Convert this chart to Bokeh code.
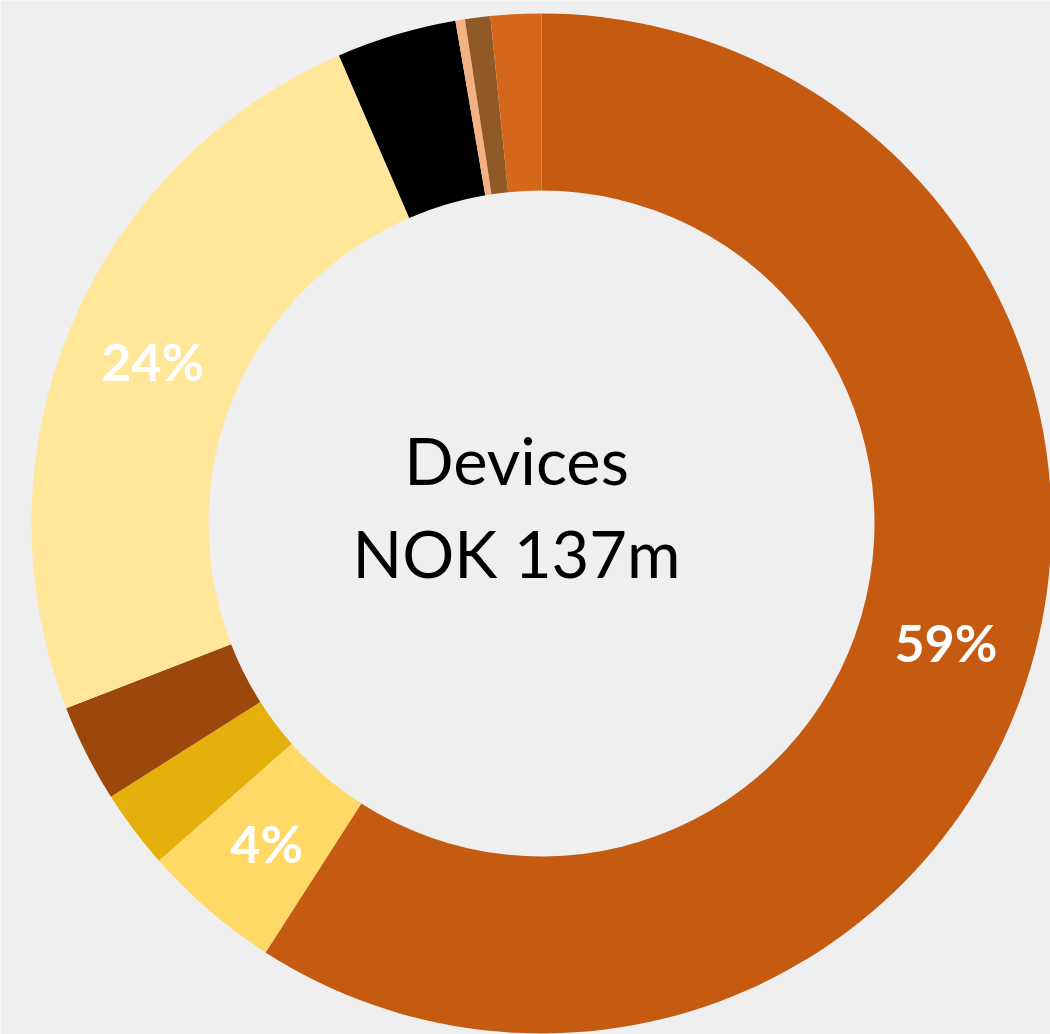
import math
from bokeh.plotting import figure
from bokeh.models import ColumnDataSource, Range1d
from bokeh.core.properties import value
from bokeh.embed import file_html
from bokeh.resources import INLINE

# Device revenue split (share of NOK 137m), clockwise from 12 o'clock
segments = ["A", "B", "C", "D", "E", "F", "G", "H", "I"]
shares = [59.1, 4.4, 2.5, 3.1, 24.4, 3.8, 0.3, 0.8, 1.6]
colors = ["#c55a11", "#ffd966", "#e5af0c", "#9c480d", "#ffe699",
          "#000000", "#f4b183", "#8f5a28", "#d5671a"]
center_lines = ["Devices", "NOK 137m"]

W, H = 1050, 1034
OUTER, INNER = 510, 333
BG = "#efefef"

total = sum(shares)
starts, ends, mids = [], [], []
acc = 0.0
for s in shares:
    a0 = acc / total * 2 * math.pi
    acc += s
    a1 = acc / total * 2 * math.pi
    # clockwise from the top -> bokeh's counter-clockwise-from-x angles
    starts.append(math.pi / 2 - a0)
    ends.append(math.pi / 2 - a1)
    mids.append(math.pi / 2 - (a0 + a1) / 2)

src = ColumnDataSource(dict(seg=segments, share=shares, color=colors,
                            start=starts, end=ends))

p = figure(width=W, height=H, output_backend="svg", toolbar_location=None,
           x_range=Range1d(-541, W - 541), y_range=Range1d(-(H - 523), 523),
           min_border=0, background_fill_color=BG, border_fill_color=BG,
           outline_line_color=None)
p.axis.visible = False
p.grid.visible = False

p.annular_wedge(x=0, y=0, inner_radius=INNER, outer_radius=OUTER,
                start_angle="start", end_angle="end", direction="clock",
                fill_color="color", line_color=None, source=src)

# percentage labels on the larger slices
r_lab = (INNER + OUTER) / 2
lx, ly, lt = [], [], []
for s, m in zip(shares, mids):
    if s >= 4:
        lx.append(r_lab * math.cos(m))
        ly.append(r_lab * math.sin(m))
        lt.append(f"{s:.0f}%")
p.text(x=lx, y=ly, text=lt, text_align="center", text_baseline="middle",
       text_color="white", text_font=value("Lato"), text_font_style="bold",
       text_font_size="52px")

# centre caption
p.text(x=[-25, -25], y=[64, -29], text=center_lines, text_align="center",
       text_baseline="alphabetic", text_color="black",
       text_font=value("Lato"), text_font_size="65px")

open("out.html", "w").write(file_html(p, INLINE))
